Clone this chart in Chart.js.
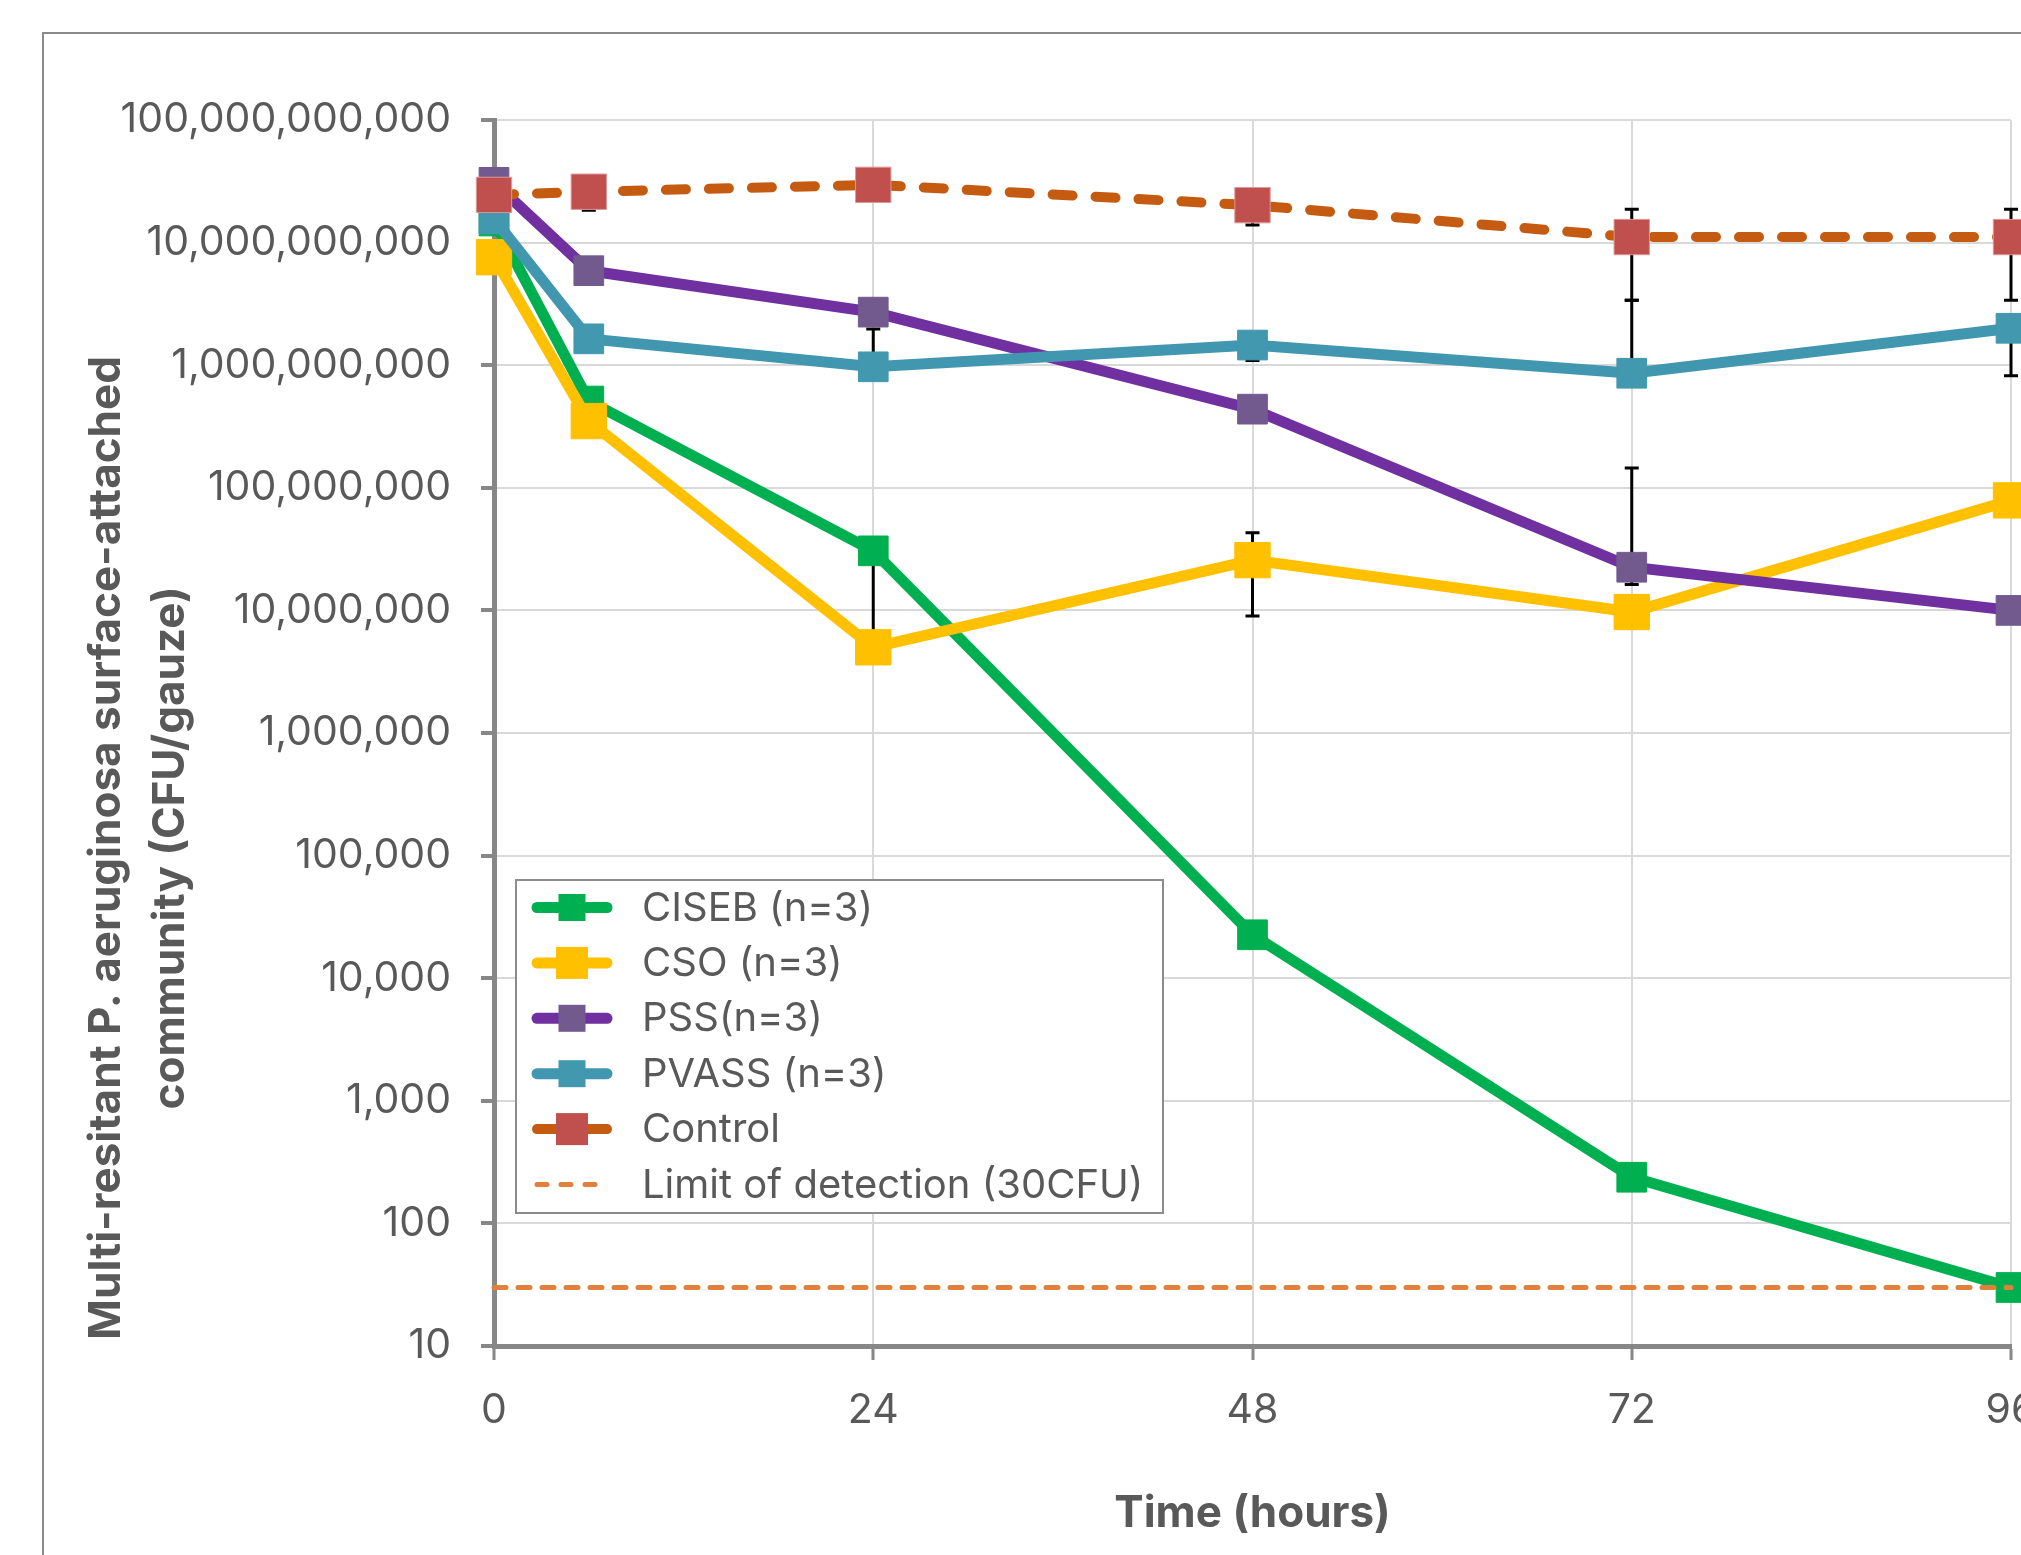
<!DOCTYPE html>
<html>
<head>
<meta charset="utf-8">
<script src="https://cdn.jsdelivr.net/npm/chart.js@4.4.1/dist/chart.umd.min.js"></script>
<style>
  html, body { margin: 0; padding: 0; overflow: hidden; background: #fff; }
  canvas { display: block; }
</style>
</head>
<body>
<canvas id="chart" width="2100" height="1650"></canvas>
<script>
// time points (hours)
const hours = [0, 6, 24, 48, 72, 96];

// CFU/gauze
const ciseb   = [1.5e10, 5.1e8, 3.06e7, 2.26e4, 238, 30];
const cso     = [7.6e9, 3.5e8, 5.0e6, 2.57e7, 9.7e6, 7.9e7];
const pss     = [3.1e10, 5.9e9, 2.71e9, 4.38e8, 2.25e7, 1.0e7];
const pvass   = [1.56e10, 1.64e9, 9.7e8, 1.46e9, 8.6e8, 2.0e9];
const control = [2.45e10, 2.6e10, 2.96e10, 2.02e10, 1.11e10, 1.11e10];
const detectionLimit = [30, 30, 30, 30, 30, 30];

// error bar ends (null = none visible)
const cisebLow    = [null, null, 5.5e6, null, null, null];
const cisebHigh   = [null, null, null, null, null, null];
const csoLow      = [null, null, null, 9.0e6, null, null];
const csoHigh     = [null, null, null, 4.29e7, null, null];
const pssLow      = [null, null, null, null, 1.63e7, null];
const pssHigh     = [null, null, null, null, 1.45e8, null];
const pvassLow    = [null, null, null, 1.09e9, null, 8.2e8];
const pvassHigh   = [null, null, 1.97e9, null, 3.38e9, null];
const controlLow  = [null, 1.84e10, null, 1.39e10, 3.38e9, 3.38e9];
const controlHigh = [null, null, null, null, 1.87e10, 1.87e10];

const xTicks = [0, 24, 48, 72, 96];
const yTicks = [10, 100, 1e3, 1e4, 1e5, 1e6, 1e7, 1e8, 1e9, 1e10, 1e11];

const seriesNames = ['CISEB (n=3)', 'CSO (n=3)', 'PSS(n=3)', 'PVASS (n=3)', 'Control', 'Limit of detection (30CFU)'];
const yTitle = ['Multi-resitant P. aeruginosa surface-attached', 'community (CFU/gauze)'];
const xTitle = 'Time (hours)';

const FONT = 'Inter, "Liberation Sans", sans-serif';
const TEXT = '#595959';

function pts(values) {
  return values.map((v, i) => ({ x: hours[i], y: v }));
}

// outer chart border (cut off at right / bottom like the source)
const frame = {
  id: 'frame',
  beforeDraw(chart) {
    const ctx = chart.ctx;
    ctx.save();
    ctx.fillStyle = '#fff';
    ctx.fillRect(0, 0, chart.width, chart.height);
    ctx.strokeStyle = '#8a8a8a';
    ctx.lineWidth = 2;
    ctx.beginPath();
    ctx.moveTo(43, chart.height);
    ctx.lineTo(43, 33);
    ctx.lineTo(chart.width, 33);
    ctx.stroke();
    ctx.restore();
  }
};

const errorBars = {
  id: 'errorBars',
  beforeDatasetsDraw(chart) {
    const ctx = chart.ctx, xs = chart.scales.x, ys = chart.scales.y;
    ctx.save();
    ctx.strokeStyle = '#000';
    ctx.lineWidth = 3;
    chart.data.datasets.forEach(ds => {
      if (!ds.errLow) return;
      ds.data.forEach((p, i) => {
        const px = xs.getPixelForValue(p.x), py = ys.getPixelForValue(p.y);
        [ds.errLow[i], ds.errHigh[i]].forEach(v => {
          if (v == null) return;
          const ey = ys.getPixelForValue(v);
          ctx.beginPath();
          ctx.moveTo(px, py);
          ctx.lineTo(px, ey);
          ctx.moveTo(px - 7, ey);
          ctx.lineTo(px + 7, ey);
          ctx.stroke();
        });
      });
    });
    ctx.restore();
  }
};

const titles = {
  id: 'titles',
  afterDraw(chart) {
    const ctx = chart.ctx, a = chart.chartArea;
    ctx.save();
    ctx.fillStyle = TEXT;
    ctx.font = 'bold 44px ' + FONT;
    ctx.textAlign = 'center';
    ctx.textBaseline = 'alphabetic';
    ctx.fillText(xTitle, (a.left + a.right) / 2, a.bottom + 181);
    ctx.textBaseline = 'middle';
    [107, 171].forEach((cx, i) => {
      ctx.save();
      ctx.translate(cx, 848);
      ctx.rotate(-Math.PI / 2);
      ctx.fillText(yTitle[i], 0, 0);
      ctx.restore();
    });
    ctx.restore();
  }
};

const boxLegend = {
  id: 'boxLegend',
  afterDraw(chart) {
    const ctx = chart.ctx;
    ctx.save();
    ctx.fillStyle = '#fff';
    ctx.fillRect(516, 880, 647, 333);
    ctx.strokeStyle = '#8c8c8c';
    ctx.lineWidth = 2;
    ctx.strokeRect(516, 880, 647, 333);
    chart.data.datasets.forEach((ds, i) => {
      const cy = 907.5 + i * 55.4;
      ctx.strokeStyle = ds.borderColor;
      ctx.lineWidth = ds.borderWidth;
      ctx.lineCap = 'round';
      ctx.setLineDash(ds.legendDash || []);
      ctx.beginPath();
      ctx.moveTo(537, cy);
      ctx.lineTo(607, cy);
      ctx.stroke();
      ctx.setLineDash([]);
      if (ds.pointRadius > 0) {
        const s = ds.legendMarker;
        ctx.fillStyle = ds.pointBackgroundColor;
        ctx.fillRect(572 - s / 2, cy - s / 2, s, s);
      }
      ctx.fillStyle = TEXT;
      ctx.font = '40px ' + FONT;
      ctx.textAlign = 'left';
      ctx.textBaseline = 'middle';
      ctx.fillText(ds.label, 642, cy + 1);
    });
    ctx.restore();
  }
};

function series(i, values, line, marker, radius, legendMarker, low, high, order, extra) {
  return Object.assign({
    label: seriesNames[i],
    data: pts(values),
    borderColor: line,
    borderWidth: 11,
    pointStyle: 'rect',
    pointRadius: radius,
    pointBackgroundColor: marker,
    pointBorderColor: marker,
    pointBorderWidth: 1,
    legendMarker: legendMarker,
    errLow: low,
    errHigh: high,
    order: order,
    clip: false,
    tension: 0
  }, extra || {});
}

const datasets = [
  series(0, ciseb, '#00b050', '#00b050', 21, 27, cisebLow, cisebHigh, 6),
  series(1, cso, '#ffc000', '#ffc000', 25, 32, csoLow, csoHigh, 5),
  series(2, pss, '#7030a0', '#725a8f', 21, 27, pssLow, pssHigh, 4),
  series(3, pvass, '#4197b0', '#4198af', 21, 27, pvassLow, pvassHigh, 3),
  series(4, control, '#c55a11', '#c0504d', 25, 32, controlLow, controlHigh, 2,
    { borderWidth: 10, borderDash: [20, 23], borderCapStyle: 'round', legendDash: [], pointBorderColor: '#dc9896' }),
  {
    label: seriesNames[5],
    data: pts(detectionLimit),
    borderColor: '#e0803a',
    borderWidth: 5,
    borderDash: [12, 12],
    borderCapStyle: 'round',
    legendDash: [10, 14],
    pointRadius: 0,
    order: 1,
    clip: false
  }
];

const ctx = document.getElementById('chart').getContext('2d');
new Chart(ctx, {
  type: 'line',
  data: { datasets: datasets },
  options: {
    responsive: false,
    animation: false,
    layout: { padding: { left: 0, top: 120, right: 89, bottom: 0 } },
    plugins: { legend: { display: false }, tooltip: { enabled: false } },
    scales: {
      x: {
        type: 'linear',
        min: 0,
        max: 96,
        afterBuildTicks: s => { s.ticks = xTicks.map(v => ({ value: v })); },
        afterFit: s => { s.height = 304; },
        grid: { color: '#d9d9d9', lineWidth: 2, tickLength: 14, tickColor: '#878787', tickWidth: 3 },
        border: { color: '#878787', width: 5 },
        ticks: { font: { family: FONT, size: 41 }, color: TEXT, padding: 26, maxRotation: 0 }
      },
      y: {
        type: 'logarithmic',
        min: 10,
        max: 1e11,
        afterBuildTicks: s => { s.ticks = yTicks.map(v => ({ value: v })); },
        afterFit: s => { s.width = 494; },
        grid: { color: '#d9d9d9', lineWidth: 2, tickLength: 13, tickColor: '#878787', tickWidth: 4 },
        border: { color: '#878787', width: 5 },
        ticks: {
          font: { family: FONT, size: 41 },
          color: TEXT,
          padding: 30,
          callback: v => Number(v).toLocaleString('en-US')
        }
      }
    }
  },
  plugins: [frame, errorBars, titles, boxLegend]
});
</script>
</body>
</html>
